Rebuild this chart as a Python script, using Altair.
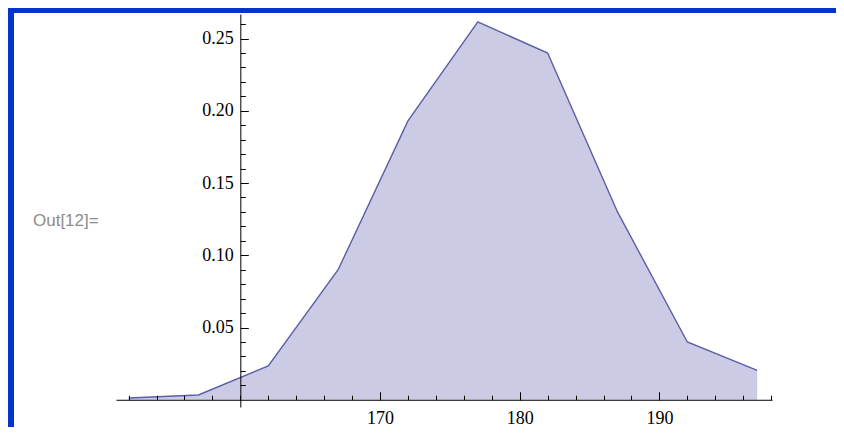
import altair as alt
import pandas as pd

# data
heights = [152, 157, 162, 167, 172, 177, 182, 187, 192, 197]
probs = [0.0012, 0.0033, 0.0235, 0.090, 0.193, 0.2615, 0.240, 0.130, 0.040, 0.0203]

x_major = [170, 180, 190]
x_minor = list(range(152, 199, 2))
y_major = [0.05, 0.10, 0.15, 0.20, 0.25]
y_minor = [round(0.01 * i, 2) for i in range(1, 27)]

df = pd.DataFrame({"h": heights, "p": probs})

W, H = 656, 393
XDOM = [151.1, 198.06]
YDOM = [-0.005, 0.267]
px_x = W / (XDOM[1] - XDOM[0])
px_y = H / (YDOM[1] - YDOM[0])
x0 = (160 - XDOM[0]) * px_x           # pixel of y-axis from plot left
y0 = H - (0 - YDOM[0]) * px_y         # pixel of x-axis from plot top

xs = alt.Scale(domain=XDOM, nice=False, zero=False)
ys = alt.Scale(domain=YDOM, nice=False, zero=False)

FONT = "Liberation Serif"
FS = 18

ax_common = dict(title=None, grid=False, zindex=1, domainColor="black", tickColor="black",
                 labelColor="black", labelFont=FONT, labelFontSize=FS)

# layer 1: area with label axes
area = alt.Chart(df).mark_area(color="#CBCBE5", opacity=1, line=False).encode(
    x=alt.X("h:Q", scale=xs, axis=alt.Axis(orient="bottom", offset=-(H - y0), values=x_major,
                                            ticks=False, tickSize=0, labelPadding=10, domain=True,
                                            domainWidth=1, format="d", **ax_common)),
    y=alt.Y("p:Q", scale=ys, axis=alt.Axis(orient="left", offset=-x0, values=y_major,
                                            ticks=False, tickSize=0, labelPadding=7, domain=True,
                                            domainWidth=1, format=".2f", **ax_common)),
)

# layer 2: line with major ticks
line = alt.Chart(df).mark_line(color="#5C5CA8", strokeWidth=1.4).encode(
    x=alt.X("h:Q", scale=xs, axis=alt.Axis(orient="top", offset=-y0, values=x_major, labels=False,
                                            domain=False, ticks=True, tickSize=8, tickWidth=1,
                                            **ax_common)),
    y=alt.Y("p:Q", scale=ys, axis=alt.Axis(orient="right", offset=-(W - x0), values=y_major,
                                            labels=False, domain=False, ticks=True, tickSize=8,
                                            tickWidth=1, **ax_common)),
)

# layer 3: invisible points carrying minor ticks
minor = alt.Chart(df).mark_point(opacity=0).encode(
    x=alt.X("h:Q", scale=xs, axis=alt.Axis(orient="top", offset=-y0, values=x_minor, labels=False,
                                            domain=False, ticks=True, tickSize=4.5, tickWidth=1,
                                            **ax_common)),
    y=alt.Y("p:Q", scale=ys, axis=alt.Axis(orient="right", offset=-(W - x0), values=y_minor,
                                            labels=False, domain=False, ticks=True, tickSize=5,
                                            tickWidth=1, **ax_common)),
)

one = alt.Data(values=[{"t": "Out[12]="}])

out_label = alt.Chart(one).mark_text(font="Liberation Sans", fontSize=17, color="#8C8C8C",
                                     align="left", baseline="alphabetic").encode(
    x=alt.value(-83), y=alt.value(212), text="t:N")

PAD_L, PAD_T, PAD_R, PAD_B = 108, 6, 64, 20
blue_top = alt.Chart(one).mark_rect(color="#0533CC").encode(
    x=alt.value(-PAD_L), x2=alt.value(W + PAD_R), y=alt.value(-PAD_T), y2=alt.value(-PAD_T + 5))
blue_left = alt.Chart(one).mark_rect(color="#0533CC").encode(
    x=alt.value(-PAD_L), x2=alt.value(-PAD_L + 6), y=alt.value(-PAD_T), y2=alt.value(H + PAD_B))

chart = alt.layer(area, line, minor, out_label, blue_top, blue_left).resolve_axis(
    x="independent", y="independent"
).properties(
    width=W, height=H,
    background="white",
    autosize=alt.AutoSizeParams(type="none"),
    padding={"left": PAD_L, "top": PAD_T, "right": PAD_R, "bottom": PAD_B},
).configure_view(stroke="transparent", strokeWidth=0)

chart.save("out.html", embed_options={"renderer": "svg", "actions": False})
